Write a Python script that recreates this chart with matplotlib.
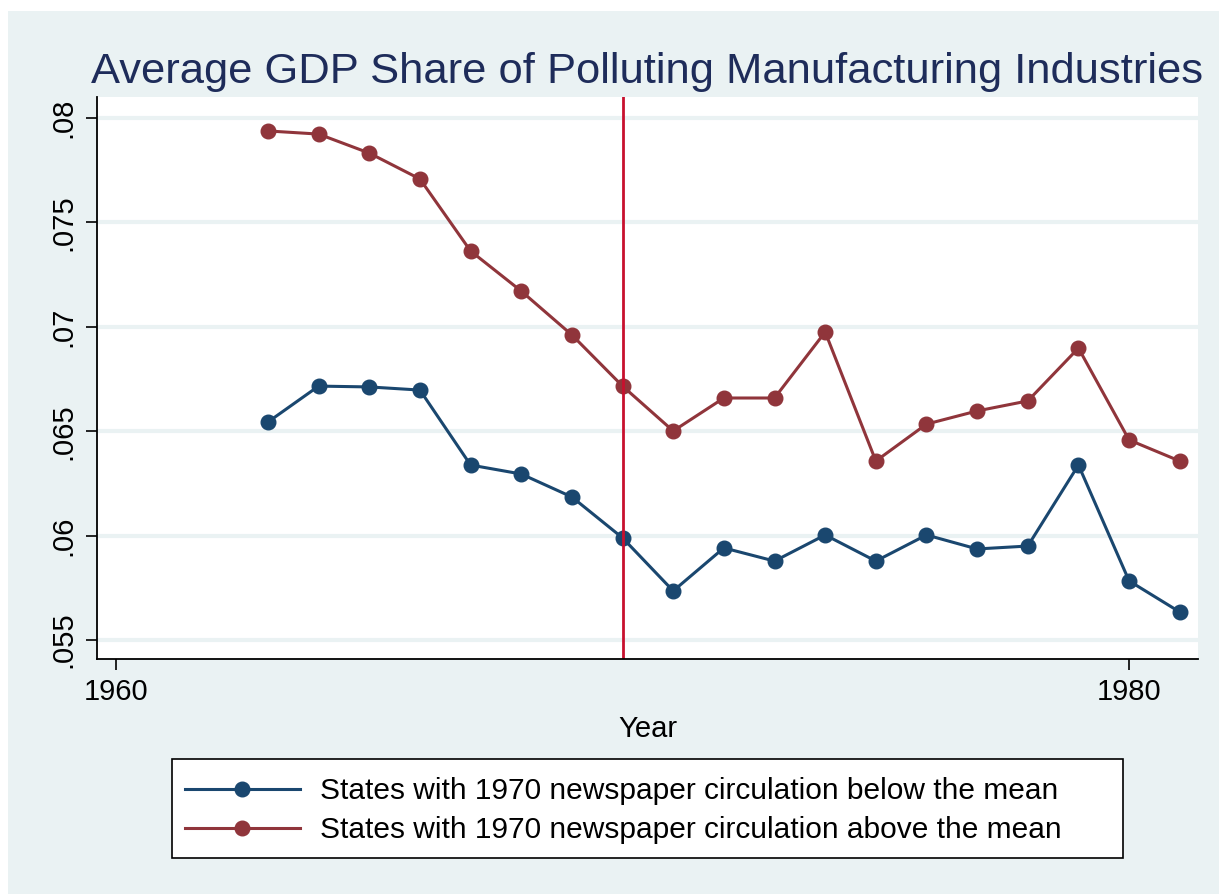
import matplotlib.pyplot as plt
from matplotlib.patches import Rectangle

years = list(range(1963, 1982))
below_mean = [0.06544, 0.06716, 0.06712, 0.06697, 0.06338, 0.06295, 0.06185,
              0.05989, 0.05735, 0.05941, 0.05878, 0.06003, 0.05878, 0.06003,
              0.05936, 0.05950, 0.06338, 0.05783, 0.05634]
above_mean = [0.07938, 0.07923, 0.07832, 0.07708, 0.07363, 0.07171, 0.06961,
              0.06716, 0.06501, 0.06659, 0.06659, 0.06975, 0.06357, 0.06534,
              0.06597, 0.06645, 0.06898, 0.06458, 0.06357]
x_ticks = [1960, 1980]
y_ticks = [0.055, 0.06, 0.065, 0.07, 0.075, 0.08]
y_labels = ['.055', '.06', '.065', '.07', '.075', '.08']
labels = ['States with 1970 newspaper circulation below the mean',
          'States with 1970 newspaper circulation above the mean']
event_year = 1970

plt.rcParams['font.family'] = ['Liberation Sans', 'DejaVu Sans']

bg = '#EAF2F3'
blue = '#1A476F'
red = '#90353B'

fig = plt.figure(figsize=(12.19, 8.94), dpi=100)
fig.patch.set_facecolor('white')
fig.patches.append(Rectangle((8 / 1219, 0), 1, 1 - 11 / 894, transform=fig.transFigure,
                             facecolor=bg, edgecolor='none', zorder=-10))

ax = fig.add_axes([97 / 1219, 1 - 659 / 894, 1101 / 1219, 562 / 894])
ax.set_facecolor('white')

ax.plot(years, below_mean, color=blue, lw=2.2, marker='o', ms=10.5, label=labels[0])
ax.plot(years, above_mean, color=red, lw=2.2, marker='o', ms=10.5, label=labels[1])
ax.axvline(event_year, color='#C8102E', lw=2)

ax.set_xlim(1959.625, 1981.36)
ax.set_ylim(0.05409, 0.081006)
ax.set_xticks(x_ticks)
ax.set_yticks(y_ticks)
ax.set_yticklabels(y_labels, rotation=90, va='center')
ax.tick_params(labelsize=21, length=8, width=1.2, colors='black', pad=6)
ax.grid(axis='y', color=bg, lw=3)
ax.set_axisbelow(True)
for s in ['top', 'right']:
    ax.spines[s].set_visible(False)
for s in ['left', 'bottom']:
    ax.spines[s].set_linewidth(1.3)

ax.set_xlabel('Year', fontsize=21, labelpad=6)
ax.set_title('Average GDP Share of Polluting Manufacturing Industries',
             fontsize=31.3, color='#1E2C5A', pad=10)

# legend box (stata style, wider padding on the right)
fig.patches.append(Rectangle((172 / 1219, 1 - 858 / 894), 951 / 1219, 99 / 894,
                             transform=fig.transFigure, facecolor='white',
                             edgecolor='black', lw=1.2, zorder=-5))
fig.legend(loc='center left', bbox_to_anchor=(185 / 1219, 1 - 810.5 / 894), fontsize=21.5,
           frameon=False, handlelength=3.85, borderpad=0, labelspacing=0.37,
           handletextpad=0.67, borderaxespad=0)

fig.savefig('out.png', dpi=100)
